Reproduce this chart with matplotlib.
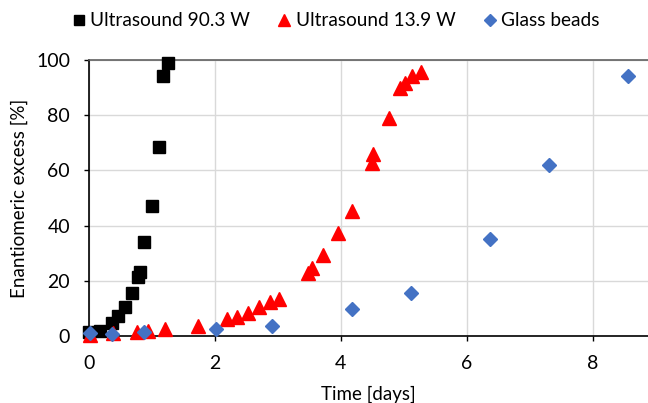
import matplotlib
matplotlib.use("Agg")
import matplotlib.pyplot as plt

# data
t_high = [0.0, 0.18, 0.37, 0.47, 0.58, 0.69, 0.78, 0.81, 0.88, 1.0, 1.12, 1.18, 1.26]
ee_high = [1.4, 1.8, 4.7, 7.2, 10.5, 15.6, 21.4, 23.2, 34.1, 47.1, 68.5, 94.2, 98.9]

t_low = [0.02, 0.39, 0.77, 0.94, 1.21, 1.74, 2.2, 2.36, 2.53, 2.71, 2.88, 3.02,
         3.48, 3.55, 3.72, 3.96, 4.18, 4.5, 4.52, 4.76, 4.94, 5.02, 5.13, 5.28]
ee_low = [0.5, 1.0, 1.5, 1.8, 2.5, 3.6, 6.1, 7.0, 8.3, 10.5, 12.3, 13.4,
          22.8, 24.6, 29.3, 37.3, 45.3, 62.7, 65.9, 79.0, 89.9, 91.7, 94.2, 95.7]

t_glass = [0.02, 0.37, 0.88, 2.02, 2.91, 4.18, 5.12, 6.37, 7.31, 8.56]
ee_glass = [1.0, 0.7, 1.4, 2.5, 3.6, 9.7, 15.6, 35.1, 62.0, 94.2]

x_ticks = [0, 2, 4, 6, 8]
y_ticks = [0, 20, 40, 60, 80, 100]

plt.rcParams['font.family'] = ['Lato', 'DejaVu Sans']

fig = plt.figure(figsize=(6.48, 4.03), dpi=100)
ax = fig.add_axes([0.137, 0.166, 0.863, 0.685])

ax.plot(t_high, ee_high, 's', color='black', ms=9, label='Ultrasound 90.3 W', clip_on=False, zorder=3)
ax.plot(t_low, ee_low, '^', color='#ff0000', ms=9.5, label='Ultrasound 13.9 W', clip_on=False, zorder=3)
ax.plot(t_glass, ee_glass, 'D', color='#4472c4', ms=7.5, label='Glass beads', clip_on=False, zorder=3)

ax.set_xlim(0, 8.88)
ax.set_ylim(0, 100)
ax.set_xticks(x_ticks)
ax.set_yticks(y_ticks)
ax.grid(True, color='#d9d9d9', lw=1)
ax.set_axisbelow(True)
for s in ['left', 'bottom']:
    ax.spines[s].set_color('black')
    ax.spines[s].set_linewidth(1.2)
ax.spines['top'].set_color('#606060')
ax.spines['top'].set_linewidth(1.2)
ax.spines['right'].set_visible(False)
ax.tick_params(labelsize=14, length=3.5, width=1, pad=10)

ax.set_xlabel('Time [days]', fontsize=13.5, labelpad=10)
ax.set_ylabel('Enantiomeric excess [%]', fontsize=13.5, labelpad=6)

fig.legend(loc='upper center', bbox_to_anchor=(0.519, 1.012), ncol=3, frameon=False,
           fontsize=13.7, handlelength=0.6, handletextpad=0.3, columnspacing=1.5,
           markerscale=0.85)

fig.savefig('out.png', dpi=100)
